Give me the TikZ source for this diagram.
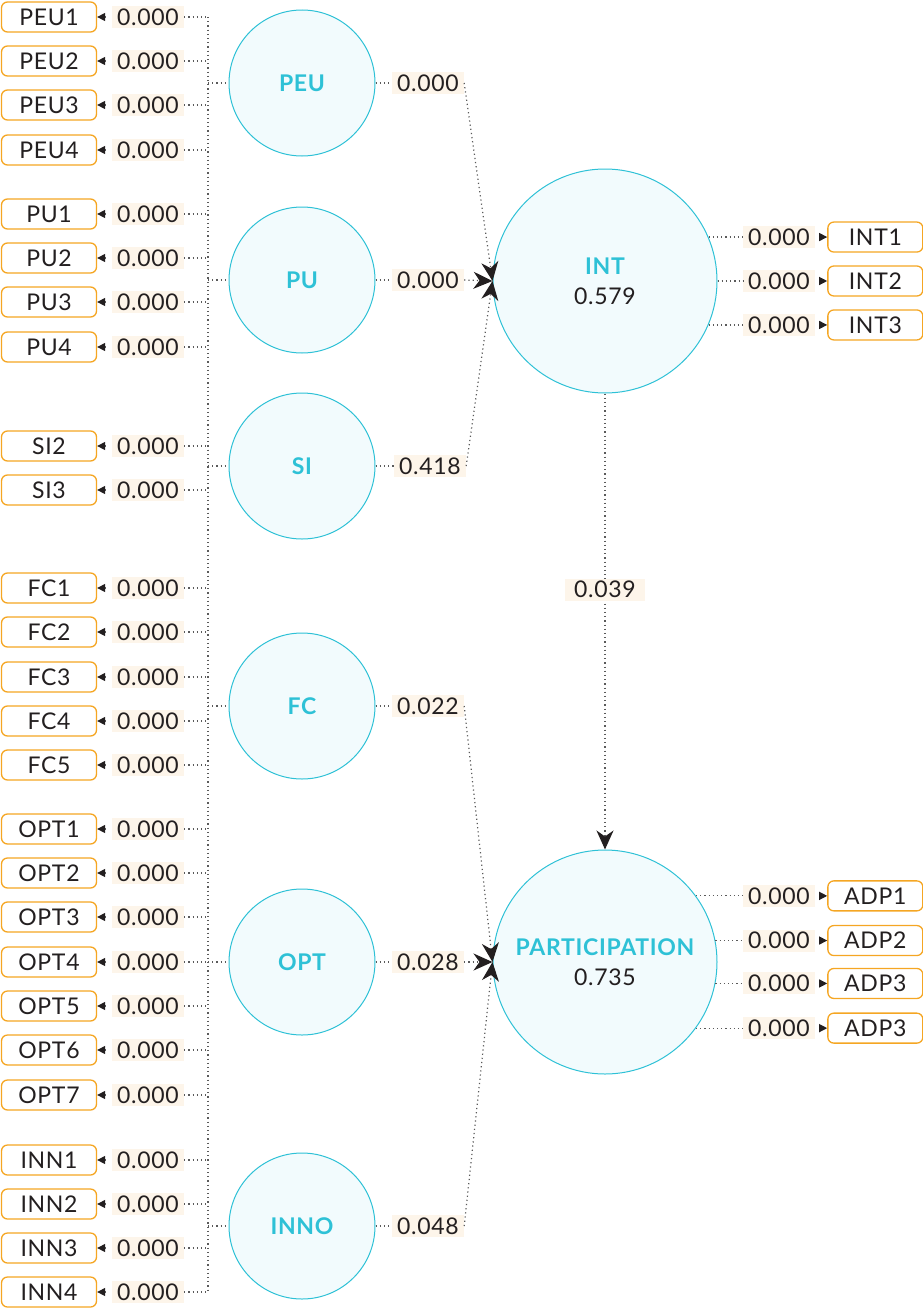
\documentclass[tikz,border=0pt]{standalone}
\usepackage{fontspec}
\setmainfont{Lato}[LetterSpace=3]
\usetikzlibrary{arrows.meta,positioning,calc}
\definecolor{cInk}{HTML}{231F20}
\definecolor{cOrange}{HTML}{F5A623}
\definecolor{cCyan}{HTML}{2EC1D6}
\definecolor{cIce}{HTML}{F2FBFD}
\definecolor{cCream}{HTML}{FDF5EA}
\definecolor{cDots}{HTML}{5A5A5A}
\tikzset{
  ind/.style   ={rounded corners=6pt,draw=cOrange,fill=white,line width=1.3pt,
                 minimum width=95pt,minimum height=30pt,inner sep=0pt,
                 font=\fontsize{23}{26}\selectfont,text=cInk},
  lv/.style    ={circle,draw=cCyan,fill=cIce,line width=1pt,minimum size=146pt,
                 inner sep=0pt,align=center,
                 font=\fontsize{23}{26}\selectfont\bfseries,text=cCyan},
  bigv/.style  ={lv,minimum size=224pt},
  wt/.style    ={fill=cCream,inner sep=0pt,minimum width=72pt,minimum height=22pt,
                 font=\fontsize{23}{26}\selectfont,text=cInk},
  dl/.style    ={cDots,line width=1.2pt,dash pattern=on 1.2pt off 3pt},
  tip/.style   ={dl,shorten <=6pt,-{Triangle[length=8pt,width=8pt,color=cInk]}},
  ar/.style    ={dl,-{Stealth[length=19pt,width=17pt,inset=6pt,color=cInk]}},
}
\newcommand{\val}[1]{{\color{cInk}\mdseries #1}}

\begin{document}
\begin{tikzpicture}[x=1pt,y=-1pt]
\useasboundingbox (0,0) rectangle (922,1309);
\coordinate (bus) at (208,0);
\coordinate (wx) at (779,0);

% exogenous constructs
\node[lv] (PEU)  at (302,83)   {PEU};
\node[lv] (PU)   at (302,280)  {PU};
\node[lv] (SI)   at (302,466)  {SI};
\node[lv] (FC)   at (302,706)  {FC};
\node[lv] (OPT)  at (302,962)  {OPT};
\node[lv] (INNO) at (302,1226) {INNO};

% endogenous constructs
\node[bigv] (INT)  at (605,281) {INT\\[4pt]\val{0.579}};
\node[bigv] (PART) at (605,962) {PARTICIPATION\\[4pt]\val{0.735}};

% left indicators
\foreach \n/\y in {PEU1/17,PEU2/61,PEU3/105,PEU4/150,
                   PU1/214,PU2/258,PU3/302,PU4/347,
                   SI2/446,SI3/490,
                   FC1/588,FC2/632,FC3/677,FC4/721,FC5/765,
                   OPT1/829,OPT2/873,OPT3/917,OPT4/962,OPT5/1006,OPT6/1050,OPT7/1095,
                   INN1/1160,INN2/1204,INN3/1248,INN4/1292}{
  \node[ind] (\n) at (49,\y) {\n};
  \node[wt] (w\n) at (148,\y) {0.000};
  \draw[tip] (w\n) -- (\n);
  \draw[dl] (w\n.east) -- (w\n.east -| bus);
}
\draw[dl] (bus |- PEU1) -- (bus |- INN4);
\foreach \c in {PEU,PU,SI,FC,OPT,INNO}
  \draw[dl] (bus |- \c) -- (\c.west);

% right indicators
\foreach \n/\a in {INT1/23.5,INT2/0.5,INT3/-23}{
  \node[wt] (w\n) at (INT.\a -| wx) {0.000};
  \node[ind,right=12pt of w\n] (\n) {\n};
  \draw[dl] (INT.\a) -- (w\n);
  \draw[tip] (w\n) -- (\n);
}
\foreach \n/\a/\t in {ADP1/36.1/ADP1,ADP2/11.3/ADP2,ADP3/-11.8/ADP3,ADP4/-36.8/ADP3}{
  \node[wt] (w\n) at (PART.\a -| wx) {0.000};
  \node[ind,right=12pt of w\n] (\n) {\t};
  \draw[dl] (PART.\a) -- (w\n);
  \draw[tip] (w\n) -- (\n);
}

% structural paths
\node[wt] (wPEU) at (428,83)   {0.000};
\node[wt] (wPU)  at (428,280)  {0.000};
\node[wt] (wSI)  at (430,466)  {0.418};
\node[wt] (wFC)  at (428,706)  {0.022};
\node[wt] (wOPT) at (428,962)  {0.028};
\node[wt] (wINNO) at (428,1226) {0.048};
\foreach \c in {PEU,PU,SI}{
  \draw[dl] (\c.east) -- (w\c.west);
  \draw[ar] (w\c.east) -- (INT.west);
}
\foreach \c in {FC,OPT,INNO}{
  \draw[dl] (\c.east) -- (w\c.west);
  \draw[ar] (w\c.east) -- (PART.west);
}
\draw[ar] (INT.south) -- node[wt,minimum width=80pt,pos=0.43]{0.039} (PART.north);
\end{tikzpicture}
\end{document}
